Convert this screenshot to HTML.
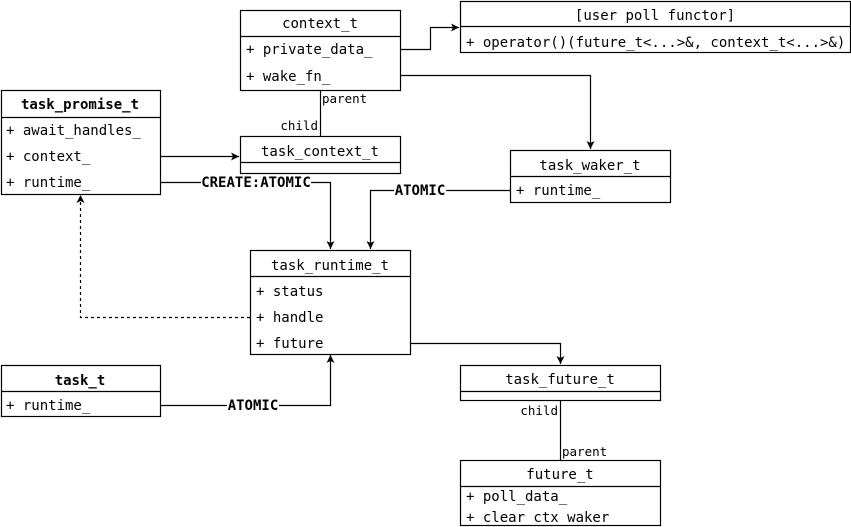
<!DOCTYPE html>
<html><head><style>
html,body{margin:0;padding:0;background:#fff;}
svg{display:block;}
text{font-family:"DejaVu Sans Mono","Liberation Mono",monospace;font-size:14px;fill:#000;}
.s{font-size:12.5px;}
.b{font-weight:bold;}
</style></head><body>
<svg width="851" height="527" viewBox="0 0 851 527" xmlns="http://www.w3.org/2000/svg">
<defs>
<marker id="a" markerWidth="10" markerHeight="10" refX="8" refY="4" orient="auto" markerUnits="userSpaceOnUse">
<path d="M0,0 L8,4 L0,8 L2,4 Z" fill="#000"/>
</marker>
</defs>
<g fill="none" stroke="#000" stroke-width="1.2">
<rect x="240.5" y="10.5" width="160" height="80"/><line x1="240" y1="36.5" x2="400" y2="36.5"/>
<rect x="460.5" y="1.5" width="390" height="51"/><line x1="460" y1="26.5" x2="850" y2="26.5"/>
<rect x="1.5" y="90.5" width="159" height="104"/><line x1="1" y1="117.5" x2="160" y2="117.5"/>
<rect x="240.5" y="136.5" width="160" height="37"/><line x1="240" y1="162.5" x2="400" y2="162.5"/>
<rect x="510.5" y="150.5" width="160" height="52"/><line x1="510" y1="176.5" x2="670" y2="176.5"/>
<rect x="250.5" y="250.5" width="160" height="104"/><line x1="250" y1="276.5" x2="410" y2="276.5"/>
<rect x="1.5" y="365.5" width="159" height="51"/><line x1="1" y1="391.5" x2="160" y2="391.5"/>
<rect x="460.5" y="365.5" width="200" height="35"/><line x1="460" y1="391.5" x2="660" y2="391.5"/>
<rect x="460.5" y="460.5" width="200" height="65"/><line x1="460" y1="486.5" x2="660" y2="486.5"/>
<polyline points="400,49.5 430.5,49.5 430.5,27.5 459,27.5" marker-end="url(#a)"/>
<polyline points="400,75.5 590.5,75.5 590.5,149" marker-end="url(#a)"/>
<line x1="320.5" y1="90" x2="320.5" y2="136"/>
<line x1="160" y1="156.5" x2="239" y2="156.5" marker-end="url(#a)"/>
<polyline points="160,182.5 330.5,182.5 330.5,249" marker-end="url(#a)"/>
<polyline points="510,190.5 370.5,190.5 370.5,249" marker-end="url(#a)"/>
<polyline points="250,317.5 80.5,317.5 80.5,195" stroke-dasharray="3,3" marker-end="url(#a)"/>
<polyline points="410,343.5 560.5,343.5 560.5,364" marker-end="url(#a)"/>
<polyline points="160,405.5 330.5,405.5 330.5,355" marker-end="url(#a)"/>
<line x1="560.5" y1="400" x2="560.5" y2="460"/>
</g>
<rect x="201" y="175" width="110" height="15" fill="#fff"/>
<rect x="394" y="183" width="52" height="15" fill="#fff"/>
<rect x="227" y="398" width="52" height="15" fill="#fff"/>
<g>
<text x="320" y="28" text-anchor="middle">context_t</text>
<text x="246" y="54">+ private_data_</text>
<text x="246" y="81">+ wake_fn_</text>
<text x="655" y="20" text-anchor="middle">[user poll functor]</text>
<text x="466" y="47">+ operator()(future_t&lt;...&gt;&amp;, context_t&lt;...&gt;&amp;)</text>
<text x="80" y="109" text-anchor="middle" class="b">task_promise_t</text>
<text x="6" y="135">+ await_handles_</text>
<text x="6" y="161">+ context_</text>
<text x="6" y="187">+ runtime_</text>
<text x="320" y="156" text-anchor="middle">task_context_t</text>
<text x="590" y="170" text-anchor="middle">task_waker_t</text>
<text x="516" y="195">+ runtime_</text>
<text x="330" y="270" text-anchor="middle">task_runtime_t</text>
<text x="256" y="296">+ status</text>
<text x="256" y="322">+ handle</text>
<text x="256" y="348">+ future</text>
<text x="80" y="385" text-anchor="middle" class="b">task_t</text>
<text x="6" y="410">+ runtime_</text>
<text x="560" y="384" text-anchor="middle">task_future_t</text>
<text x="560" y="479" text-anchor="middle">future_t</text>
<text x="466" y="501">+ poll_data_</text>
<text x="466" y="522">+ clear_ctx_waker_</text>
<text x="256" y="187" text-anchor="middle" class="b">CREATE:ATOMIC</text>
<text x="420" y="195" text-anchor="middle" class="b">ATOMIC</text>
<text x="253" y="410" text-anchor="middle" class="b">ATOMIC</text>
<text x="322" y="103" class="s">parent</text>
<text x="318" y="130" text-anchor="end" class="s">child</text>
<text x="558" y="415" text-anchor="end" class="s">child</text>
<text x="562" y="456" class="s">parent</text>
</g>
</svg>
</body></html>
